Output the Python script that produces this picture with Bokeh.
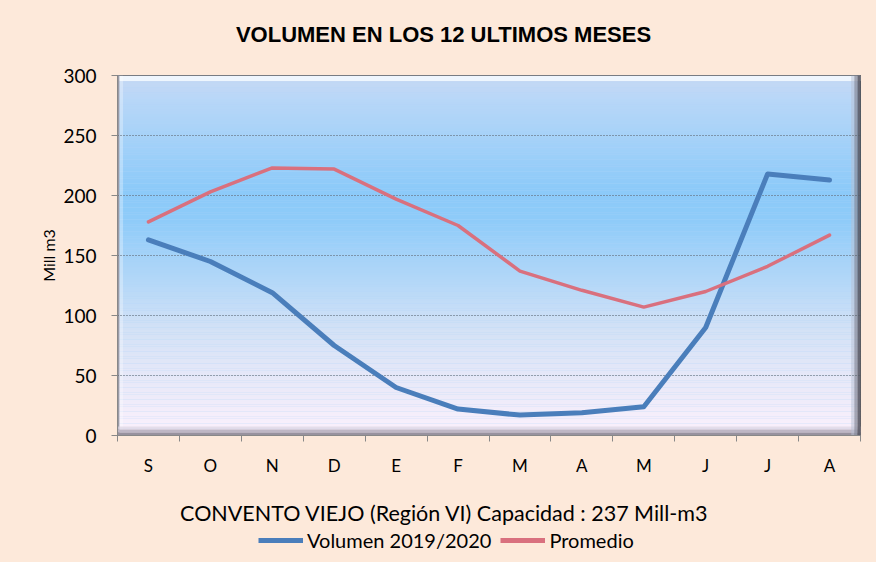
from bokeh.plotting import figure
from bokeh.layouts import column
from bokeh.models import Range1d, FixedTicker, BoxAnnotation, Label, Legend, LegendItem
from bokeh.embed import file_html
from bokeh.resources import INLINE

months = ["S", "O", "N", "D", "E", "F", "M", "A", "M", "J", "J", "A"]
volumen = [163, 145, 119, 75, 40, 22, 17, 19, 24, 90, 218, 213]
promedio = [178, 203, 223, 222, 197, 175, 137, 121, 107, 120, 141, 167]
y_ticks = [0, 50, 100, 150, 200, 250, 300]

title_text = "VOLUMEN EN LOS 12 ULTIMOS MESES"
subtitle_text = "CONVENTO VIEJO (Región VI) Capacidad : 237 Mill-m3"
y_label = "Mill m3"
series_names = ["Volumen 2019/2020", "Promedio"]
colors = ["#4A7EBB", "#D9707E"]
widths = [5, 3.5]

BG = "#FDE9DA"
FONT = "Lato"

W = 876
H_HEAD, H_MAIN, H_FOOT = 55, 445, 62
LEFT, RIGHT = 117, 16


def strip(height):
    """A plain band of the chart background, x data units = pixels from the left edge."""
    s = figure(width=W, height=height, output_backend="svg", toolbar_location=None,
               x_range=Range1d(LEFT, W - RIGHT), y_range=Range1d(0, height),
               x_axis_location=None, y_axis_location=None,
               min_border_left=LEFT, min_border_right=RIGHT, min_border_top=0, min_border_bottom=0)
    s.border_fill_color = BG
    s.background_fill_alpha = 0
    s.outline_line_color = None
    s.xgrid.visible = False
    s.ygrid.visible = False
    return s


# header with the title
h = strip(H_HEAD)
h.add_layout(Label(x=443, y=H_HEAD - 34, text=title_text, text_align="center",
                   text_baseline="middle", text_font="Liberation Sans", text_font_style="bold",
                   text_font_size="22px", text_color="#000000"))

p = figure(width=W, height=H_MAIN, output_backend="svg", toolbar_location=None,
           x_range=Range1d(0, len(months)), y_range=Range1d(y_ticks[0], y_ticks[-1]),
           min_border_left=LEFT, min_border_right=RIGHT, min_border_top=20, min_border_bottom=65)
p.border_fill_color = BG
p.background_fill_color = "#B0D4F8"
p.outline_line_color = "#303030"
p.outline_line_width = 1

# gradient background of the plot area
stops = [(300, (0xC8, 0xD8, 0xF3)), (280, (0xB8, 0xD7, 0xF8)), (205, (0x8C, 0xCA, 0xF9)),
         (180, (0x8E, 0xCB, 0xF9)), (130, (0xB2, 0xD7, 0xF8)), (90, (0xD2, 0xE1, 0xF6)),
         (50, (0xE6, 0xE8, 0xF8)), (0, (0xFC, 0xF1, 0xFC))]


def grad(v):
    for (v1, c1), (v0, c0) in zip(stops[:-1], stops[1:]):
        if v0 <= v <= v1:
            t = (v - v0) / (v1 - v0)
            c = [round(a + (b - a) * t) for a, b in zip(c0, c1)]
            return "#%02x%02x%02x" % tuple(c)
    return "#ffffff"


step = 2
for b in range(0, 300, step):
    p.add_layout(BoxAnnotation(bottom=b, top=b + step, fill_color=grad(b + step / 2),
                               fill_alpha=1, line_color=None, level="image"))

# bevel effect around the plot area
bevels = [
    dict(bottom=295.5, top=300, fill_color="#F6FBFF", fill_alpha=0.85),
    dict(right=0.09, fill_color="#FFFFFF", fill_alpha=0.3),
    dict(right=0.03, fill_color="#9A9AA6", fill_alpha=1),
    dict(bottom=5, top=7.5, fill_color="#DCD4E2", fill_alpha=0.7),
    dict(bottom=2.5, top=5, fill_color="#BEB6C4", fill_alpha=1),
    dict(bottom=0, top=2.5, fill_color="#98929E", fill_alpha=1),
    dict(left=11.85, right=11.9, fill_color="#B8C0D4", fill_alpha=0.5),
    dict(left=11.9, right=11.95, fill_color="#8E92A2", fill_alpha=0.8),
    dict(left=11.95, fill_color="#5A5A66", fill_alpha=0.9),
]
for kw in bevels:
    p.add_layout(BoxAnnotation(line_color=None, level="image", **kw))

xs = [i + 0.5 for i in range(len(months))]
series = [volumen, promedio]
for ys, c, w in zip(series, colors, widths):
    p.line(xs, ys, line_width=w, line_color=c, line_join="round", line_cap="round")

# grid
p.xgrid.visible = False
p.ygrid.ticker = FixedTicker(ticks=y_ticks[1:-1])
p.ygrid.grid_line_color = "#505860"
p.ygrid.grid_line_dash = "1 2"
p.ygrid.grid_line_width = 1

# axes
p.yaxis.ticker = FixedTicker(ticks=y_ticks)
p.yaxis.major_label_text_font = FONT
p.yaxis.major_label_text_font_size = "19px"
p.yaxis.major_label_text_color = "#000000"
p.yaxis.major_tick_out = 6
p.yaxis.major_tick_in = 0
p.yaxis.minor_tick_out = 0
p.yaxis.major_label_standoff = 15
p.yaxis.axis_line_color = "#888888"
p.yaxis.major_tick_line_color = "#888888"
p.yaxis.axis_label = y_label
p.yaxis.axis_label_text_font = FONT
p.yaxis.axis_label_text_font_size = "16px"
p.yaxis.axis_label_text_font_style = "normal"
p.yaxis.axis_label_text_color = "#000000"
p.yaxis.axis_label_standoff = 2

p.xaxis.ticker = FixedTicker(ticks=xs, minor_ticks=list(range(len(months) + 1)))
p.xaxis.major_label_overrides = {x: m for x, m in zip(xs, months)}
p.xaxis.major_label_text_font = FONT
p.xaxis.major_label_text_font_size = "17px"
p.xaxis.major_label_text_color = "#000000"
p.xaxis.major_tick_out = 0
p.xaxis.major_tick_in = 0
p.xaxis.minor_tick_out = 6
p.xaxis.minor_tick_in = 0
p.xaxis.minor_tick_line_color = "#888888"
p.xaxis.axis_line_color = "#888888"
p.xaxis.major_label_standoff = 13

# footer: subtitle and legend
f = strip(H_FOOT)
f.extra_y_ranges = {"hidden": Range1d(10000, 20000)}
f.add_layout(Label(x=444, y=H_FOOT - 12, text=subtitle_text, text_align="center",
                   text_baseline="middle", text_font=FONT, text_font_size="21.5px",
                   text_color="#000000"))

items = []
for name, ys, c in zip(series_names, series, colors):
    r = f.line(xs, ys, line_width=5, line_color=c, y_range_name="hidden")
    items.append(LegendItem(label=name, renderers=[r]))

legend = Legend(items=items, location=(258 - LEFT, 10), orientation="horizontal",
                border_line_color=None, background_fill_alpha=0, padding=0, margin=0,
                spacing=9, glyph_width=45, label_standoff=4, label_text_font=FONT,
                label_text_font_size="20px", label_text_color="#000000")
f.add_layout(legend, "center")

layout = column(h, p, f, spacing=0, styles={"background-color": BG})
open("out.html", "w").write(file_html(layout, INLINE))
